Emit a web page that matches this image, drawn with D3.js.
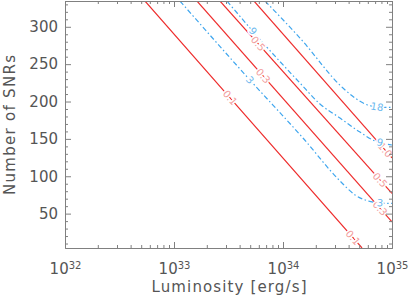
<!DOCTYPE html>
<html>
<head>
<meta charset="utf-8">
<script src="https://cdn.jsdelivr.net/npm/d3@7"></script>
<style>
  body { margin: 0; background: #fff; }
  svg { display: block; }
</style>
</head>
<body>
<div id="chart"></div>
<script>
// axis ticks
var xMajor = [1e32, 1e33, 1e34, 1e35];
var yMajor = [50, 100, 150, 200, 250, 300];

// red solid contours (log10 L, N)
var redLevels = ["0.1", "0.3", "0.5", "1.0"];
var redLogL = [[32.734, 33.514, 34.725], [33.211, 35.0], [33.422, 35.0], [33.734, 35.0]];
var redN = [[334.4, 205.0, 4.1], [334.4, 38.9], [334.4, 77.0], [334.4, 124.5]];
var redLabelAt = [[33.514, 34.642], [33.817, 34.89], [33.771, 34.89], [34.936]];

// blue dash-dot contours
var blueLevels = ["3", "9", "18"];
var blueLogL = [
    [33.055, 33.697, 34.183, 34.523, 34.661, 34.78, 34.89, 35.0],
    [33.486, 33.835, 34.156, 34.339, 34.523, 34.706, 34.844, 35.0],
    [33.835, 34.156, 34.55, 34.661, 34.752, 34.872, 35.0]
];
var blueN = [
    [334.4, 228.7, 151.2, 93.7, 75.0, 67.0, 64.3, 63.6],
    [334.4, 275.5, 224.7, 196.7, 177.9, 159.1, 147.1, 141.8],
    [334.4, 284.9, 218.1, 204.7, 196.7, 192.6, 192.0]
];
var blueLabelAt = [[33.697, 34.89], [33.725, 34.89], [34.862]];

var W = 409, H = 299;
var plot = {left: 65, right: 392, top: 1, bottom: 248};
var axisColor = "#808080", textColor = "#555";

var svg = d3.select("#chart").append("svg")
    .attr("width", W)
    .attr("height", H)
    .style("font-family", "DejaVu Sans");

var x = d3.scaleLog().domain([1e32, 1e35]).range([plot.left, plot.right]);
var y = d3.scaleLinear().domain([4, 334.5]).range([plot.bottom, plot.top]);

svg.append("clipPath").attr("id", "clip")
    .append("rect")
    .attr("x", plot.left).attr("y", plot.top)
    .attr("width", plot.right - plot.left)
    .attr("height", plot.bottom - plot.top);

var lines = svg.append("g").attr("clip-path", "url(#clip)");

function pts(ls, ns) {
    return ls.map(function(l, i) { return [Math.pow(10, l), ns[i]]; });
}

var line = d3.line()
    .x(function(d) { return x(d[0]); })
    .y(function(d) { return y(d[1]); });

var curve = d3.line()
    .x(function(d) { return x(d[0]); })
    .y(function(d) { return y(d[1]); })
    .curve(d3.curveMonotoneX);

redLevels.forEach(function(lv, i) {
    lines.append("path")
        .attr("d", line(pts(redLogL[i], redN[i])))
        .attr("fill", "none")
        .attr("stroke", "#ee2c2c")
        .attr("stroke-width", 1.2);
});

blueLevels.forEach(function(lv, i) {
    lines.append("path")
        .attr("d", curve(pts(blueLogL[i], blueN[i])))
        .attr("fill", "none")
        .attr("stroke", "#3fa6ee")
        .attr("stroke-width", 1.2)
        .attr("stroke-dasharray", "5,2.5,1.5,2.5");
});

// position on a polyline at a given log10 L
function interp(ls, ns, l) {
    if (l <= ls[0]) return ns[0];
    for (var k = 1; k < ls.length; k++) {
        if (l <= ls[k]) {
            var t = (l - ls[k - 1]) / (ls[k] - ls[k - 1]);
            return ns[k - 1] + t * (ns[k] - ns[k - 1]);
        }
    }
    return ns[ns.length - 1];
}

function addLabels(levels, ls, ns, at, color) {
    levels.forEach(function(lv, i) {
        at[i].forEach(function(l) {
            var px = x(Math.pow(10, l)), py = y(interp(ls[i], ns[i], l));
            var x0 = x(Math.pow(10, l - 0.03)), y0 = y(interp(ls[i], ns[i], l - 0.03));
            var x1 = x(Math.pow(10, Math.min(l + 0.03, 35))), y1 = y(interp(ls[i], ns[i], Math.min(l + 0.03, 35)));
            var ang = Math.atan2(y1 - y0, x1 - x0) * 180 / Math.PI;
            lines.append("text")
                .attr("transform", "translate(" + px + "," + py + ") rotate(" + ang + ")")
                .attr("text-anchor", "middle")
                .attr("dy", "0.35em")
                .attr("font-size", "10px")
                .attr("fill", color)
                .attr("stroke", "#fff")
                .attr("stroke-width", 3)
                .attr("paint-order", "stroke")
                .text(lv);
        });
    });
}

addLabels(redLevels, redLogL, redN, redLabelAt, "#f29a9a");
addLabels(blueLevels, blueLogL, blueN, blueLabelAt, "#6cb8ee");

// minor ticks
var xMinor = [];
[32, 33, 34].forEach(function(e) {
    for (var m = 2; m < 10; m++) xMinor.push(m * Math.pow(10, e));
});
var yMinor = d3.range(10, 335, 10).filter(function(v) { return v % 50 !== 0; });

function styleAxis(g) {
    g.selectAll("path, line").attr("stroke", axisColor);
    g.selectAll("text").attr("fill", textColor).attr("font-size", "15px").attr("font-family", "DejaVu Sans");
}

var xAxis = svg.append("g")
    .attr("transform", "translate(0," + plot.bottom + ")")
    .call(d3.axisBottom(x).tickValues(xMajor).tickSize(-6).tickSizeOuter(0).tickPadding(15));
xAxis.selectAll(".tick text").each(function(d) {
    var t = d3.select(this).text("");
    t.append("tspan").text("10");
    t.append("tspan").attr("dy", "-0.45em").attr("font-size", "10px").text(Math.round(Math.log10(d)));
});
styleAxis(xAxis);

svg.append("g")
    .attr("transform", "translate(0," + plot.bottom + ")")
    .call(d3.axisBottom(x).tickValues(xMinor).tickSize(-3).tickSizeOuter(0).tickFormat(""))
    .call(styleAxis);

svg.append("g")
    .attr("transform", "translate(0," + plot.top + ")")
    .call(d3.axisTop(x).tickValues(xMajor).tickSize(-6).tickSizeOuter(0).tickFormat(""))
    .call(styleAxis);
svg.append("g")
    .attr("transform", "translate(0," + plot.top + ")")
    .call(d3.axisTop(x).tickValues(xMinor).tickSize(-3).tickSizeOuter(0).tickFormat(""))
    .call(styleAxis);

svg.append("g")
    .attr("transform", "translate(" + plot.left + ",0)")
    .call(d3.axisLeft(y).tickValues(yMajor).tickSize(-6).tickSizeOuter(0).tickPadding(7))
    .call(styleAxis);
svg.append("g")
    .attr("transform", "translate(" + plot.left + ",0)")
    .call(d3.axisLeft(y).tickValues(yMinor).tickSize(-3).tickSizeOuter(0).tickFormat(""))
    .call(styleAxis);

svg.append("g")
    .attr("transform", "translate(" + plot.right + ",0)")
    .call(d3.axisRight(y).tickValues(yMajor).tickSize(-6).tickSizeOuter(0).tickFormat(""))
    .call(styleAxis);
svg.append("g")
    .attr("transform", "translate(" + plot.right + ",0)")
    .call(d3.axisRight(y).tickValues(yMinor).tickSize(-3).tickSizeOuter(0).tickFormat(""))
    .call(styleAxis);

// axis titles
svg.append("text")
    .attr("x", (plot.left + plot.right) / 2 + 0.5)
    .attr("y", 292)
    .attr("text-anchor", "middle")
    .attr("font-size", "15px")
    .attr("fill", textColor)
    .attr("textLength", 155)
    .attr("lengthAdjust", "spacing")
    .text("Luminosity [erg/s]");

svg.append("text")
    .attr("transform", "translate(15,125) rotate(-90)")
    .attr("text-anchor", "middle")
    .attr("font-size", "15px")
    .attr("fill", textColor)
    .attr("textLength", 140)
    .attr("lengthAdjust", "spacing")
    .text("Number of SNRs");
</script>
</body>
</html>
